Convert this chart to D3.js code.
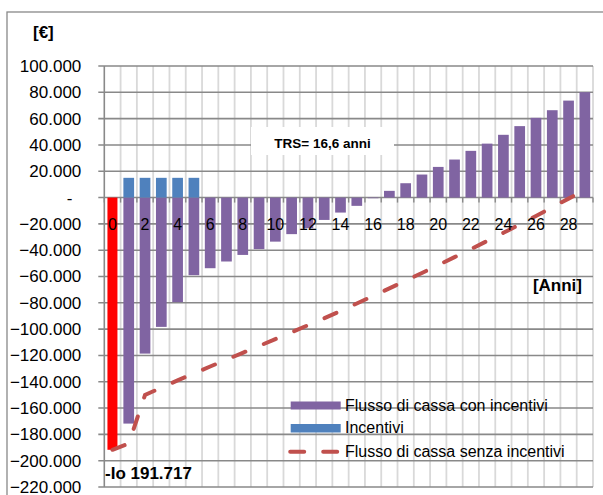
<!DOCTYPE html>
<html>
<head>
<meta charset="utf-8">
<script src="https://cdn.jsdelivr.net/npm/d3@7"></script>
<style>
  html, body { margin: 0; padding: 0; background: #fff; }
  svg { display: block; font-family: "Liberation Sans", Arial, sans-serif; }
</style>
</head>
<body>
<svg id="chart" width="603" height="495"></svg>
<script>
// ---------- DATA ----------
const years = d3.range(0, 30);
const xTickLabels = [0, 2, 4, 6, 8, 10, 12, 14, 16, 18, 20, 22, 24, 26, 28];
const yTickValues = [100000, 80000, 60000, 40000, 20000, 0, -20000, -40000, -60000, -80000,
                     -100000, -120000, -140000, -160000, -180000, -200000, -220000];
const investimento = [{ year: 0, value: -191717 }];
const flussoConIncentivi = [null, -171800, -118600, -98300, -79500, -59000, -53700, -48600,
  -43600, -39200, -33500, -27800, -23300, -17000, -11400, -6300, -500, 5100, 10900, 17500,
  23300, 28900, 35500, 41000, 47700, 54300, 60600, 66400, 73700, 80100];
const incentivi = [null, 15000, 15000, 15000, 15000, 15000];
const flussoSenzaIncentivi = [-191717, -187000, -150000, -144500, -139000, -133700, -128400,
  -123200, -118000, -112800, -107600, -102400, -97000, -91700, -86200, -80500, -74800, -69000,
  -63200, -57300, -51300, -45300, -39200, -33000, -26800, -20400, -14000, -7400, -800, 5900];
const legendLabels = ["Flusso di cassa con incentivi", "Incentivi", "Flusso di cassa senza incentivi"];
const trsLabel = "TRS= 16,6 anni";
const ioLabel = "-Io 191.717";
const yTitle = "[€]";
const xTitle = "[Anni]";

// ---------- LAYOUT ----------
const svg = d3.select("#chart");
const pL = 104.3, pR = 593, pT = 66, pB = 487;
const cPurple = "#8064A2", cBlue = "#4F81BD", cRed = "#C0504D", cIo = "#FF0000";
const gridDark = "#898989", gridLight = "#d9d9d9";

const x = d3.scaleBand().domain(years).range([pL, pR]).paddingInner(0).paddingOuter(0);
const y = d3.scaleLinear().domain([-220000, 100000]).range([pB, pT]);
const bw = x.bandwidth();
const barW = 10.7;

// outer chart border
svg.append("rect").attr("x", 7).attr("y", 12).attr("width", 620).attr("height", 500)
  .attr("fill", "none").attr("stroke", gridDark).attr("stroke-width", 1.3);

// vertical gridlines (category boundaries)
const vg = svg.append("g");
d3.range(1, 31).forEach(i => {
  const xx = pL + i * bw;
  vg.append("line").attr("x1", xx).attr("x2", xx).attr("y1", pT).attr("y2", pB)
    .attr("stroke", gridLight).attr("stroke-width", 1.8);
});

// horizontal gridlines
const hg = svg.append("g");
yTickValues.forEach(v => {
  hg.append("line").attr("x1", pL - 6).attr("x2", pR).attr("y1", y(v)).attr("y2", y(v))
    .attr("stroke", gridDark).attr("stroke-width", 1.6);
});
// x axis ticks at zero line
d3.range(0, 31).forEach(i => {
  const xx = pL + i * bw;
  hg.append("line").attr("x1", xx).attr("x2", xx).attr("y1", y(0)).attr("y2", y(0) + 5)
    .attr("stroke", gridDark).attr("stroke-width", 1.4);
});
// y axis line
svg.append("line").attr("x1", pL).attr("x2", pL).attr("y1", pT).attr("y2", pB)
  .attr("stroke", gridDark).attr("stroke-width", 1.6);

// bars
const bars = svg.append("g");
bars.selectAll(".pur").data(years.filter(d => flussoConIncentivi[d] != null)).join("rect")
  .attr("x", d => x(d) + (bw - barW) / 2).attr("width", barW)
  .attr("y", d => Math.min(y(0), y(flussoConIncentivi[d])))
  .attr("height", d => Math.abs(y(flussoConIncentivi[d]) - y(0)))
  .attr("fill", cPurple);
bars.selectAll(".blu").data(years.filter(d => incentivi[d] != null)).join("rect")
  .attr("x", d => x(d) + (bw - barW) / 2).attr("width", barW)
  .attr("y", d => y(incentivi[d])).attr("height", d => y(0) - y(incentivi[d]))
  .attr("fill", cBlue);
bars.selectAll(".io").data(investimento).join("rect")
  .attr("x", d => x(d.year) + (bw - 10) / 2).attr("width", 10)
  .attr("y", y(0)).attr("height", d => y(d.value) - y(0))
  .attr("fill", cIo);

// dashed line
const line = d3.line().x((d, i) => x(i) + bw / 2).y(d => y(d));
svg.append("path").datum(flussoSenzaIncentivi).attr("d", line)
  .attr("fill", "none").attr("stroke", cRed).attr("stroke-width", 4)
  .attr("stroke-linecap", "round").attr("stroke-dasharray", "13 20");

// y axis labels
const yAxis = d3.axisLeft(y).tickValues(yTickValues).tickSize(0).tickPadding(23)
  .tickFormat(d => d === 0 ? "-" : d3.format(",")(d).replace(/,/g, "."));
const gy = svg.append("g").attr("transform", `translate(${pL},0)`).call(yAxis);
gy.select(".domain").remove();
gy.selectAll("text").attr("font-size", 17).attr("fill", "#000")
  .attr("font-family", "Liberation Sans, Arial, sans-serif")
  .attr("dx", d => d === 0 ? -9 : 0);

// x axis labels
const xAxis = d3.axisBottom(x).tickValues(xTickLabels).tickSize(0).tickPadding(21);
const gx = svg.append("g").attr("transform", `translate(0,${y(0)})`).call(xAxis);
gx.select(".domain").remove();
gx.selectAll("text").attr("font-size", 16).attr("fill", "#000")
  .attr("font-family", "Liberation Sans, Arial, sans-serif");

// TRS box
svg.append("rect").attr("x", 251).attr("y", 127).attr("width", 143).attr("height", 28).attr("fill", "#fff");
svg.append("text").attr("x", 322.5).attr("y", 148).attr("text-anchor", "middle")
  .attr("font-size", 13.5).attr("font-weight", "bold").text(trsLabel);

// titles
svg.append("text").attr("x", 33).attr("y", 38).attr("font-size", 17).attr("font-weight", "bold").text(yTitle);
svg.append("text").attr("x", 582).attr("y", 291).attr("text-anchor", "end")
  .attr("font-size", 17).attr("font-weight", "bold").text(xTitle);
svg.append("text").attr("x", 105).attr("y", 479).attr("font-size", 17).attr("font-weight", "bold").text(ioLabel);

// legend
const lg = svg.append("g");
const lx = 290.7, lw = 50;
lg.append("rect").attr("x", lx).attr("y", 401.5).attr("width", lw).attr("height", 8).attr("fill", cPurple);
lg.append("rect").attr("x", lx).attr("y", 424).attr("width", lw).attr("height", 8.5).attr("fill", cBlue);
lg.append("line").attr("x1", lx - 0.5).attr("x2", lx + lw).attr("y1", 451.7).attr("y2", 451.7)
  .attr("stroke", cRed).attr("stroke-width", 4).attr("stroke-linecap", "round").attr("stroke-dasharray", "14 19");
const ly = [410.5, 433, 457];
legendLabels.forEach((t, i) => {
  lg.append("text").attr("x", 345).attr("y", ly[i]).attr("font-size", 16).attr("fill", "#000").text(t);
});
</script>
</body>
</html>
